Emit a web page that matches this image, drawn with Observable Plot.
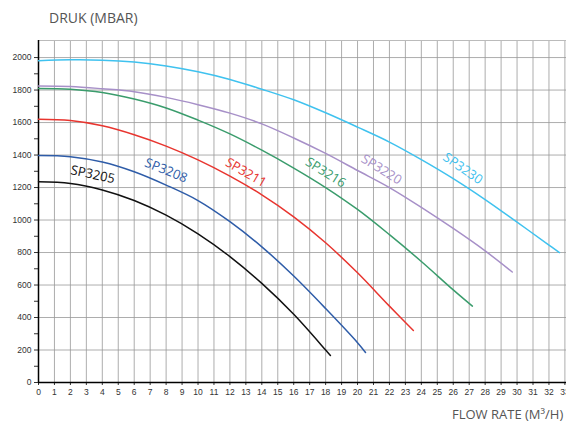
<!DOCTYPE html>
<html><head><meta charset="utf-8">
<script src="https://cdn.jsdelivr.net/npm/d3@7"></script>
<script src="https://cdn.jsdelivr.net/npm/@observablehq/plot@0.6"></script>
<style>
body{margin:0;background:#fff;}
#wrap{position:relative;width:566px;height:425px;overflow:hidden;background:#fff;}
#wrap svg{position:absolute;left:0;top:0;}
.t{position:absolute;font-family:"Open Sans",sans-serif;color:#555;white-space:nowrap;}
</style></head><body>
<div id="wrap">
<div class="t" style="left:49px;top:8px;font-size:14px">DRUK (MBAR)</div>
<div class="t" style="left:452px;top:405px;font-size:13px">FLOW RATE (M³/H)</div>
</div>
<script>
// Series (flow in m³/h, pressure in mbar)
const models = ["SP3205","SP3208","SP3211","SP3216","SP3220","SP3230"];
const flow3205 = [0,2,4,6,8,10,12,14,16,18,18.3];
const druk3205 = [1235,1225,1185,1120,1030,915,775,610,420,200,166];
const flow3208 = [0,2,4,6,8,10,12,14,16,18,20,20.5];
const druk3208 = [1397,1390,1357,1297,1215,1120,990,835,655,455,245,185];
const flow3211 = [0,2,4,6,8,10,12,14,16,18,20,22,23.5];
const druk3211 = [1620,1612,1580,1525,1455,1370,1270,1155,1020,860,675,470,320];
const flow3216 = [0,2,4,6,8,10,12,14,16,18,20,22,24,26,27.2];
const druk3216 = [1810,1805,1785,1745,1690,1615,1530,1430,1320,1200,1065,910,745,570,470];
const flow3220 = [0,2,4,6,8,10,12,14,16,18,20,22,24,26,28,29.7];
const druk3220 = [1825,1822,1808,1790,1755,1710,1658,1592,1505,1410,1305,1200,1078,948,810,680];
const flow3230 = [0,2,4,6,8,10,12,14,16,18,20,22,24,26,28,30,32,32.66];
const druk3230 = [1980,1986,1984,1972,1948,1912,1865,1805,1740,1660,1572,1480,1372,1255,1126,987,846,800];
// Curve labels (anchor in data units, angle in degrees)
const labelFlow = [3.4,8.0,13.0,18.0,21.5,26.6];
const labelDruk = [1280,1305,1292,1292,1311,1317];
const labelAngle = [12,22,30,32,32,35];
// Ticks
const xTicks = d3.range(0,34);
const yLabelTicks = [0,200,400,600,800,1000,1200,1400,1600,1800,2000];
const yMinorTicks = [100,300,500,700,900,1100,1300,1500,1700,1900];

const colors = ["#111111","#2e5ca8","#e8352f","#3a9c6c","#a790c8","#3fc2ef"];
const flows = [flow3205,flow3208,flow3211,flow3216,flow3220,flow3230];
const druks = [druk3205,druk3208,druk3211,druk3216,druk3220,druk3230];
const rows = models.flatMap((m,i)=>flows[i].map((f,j)=>({model:m, flow:f, druk:druks[i][j]})));
const labels = models.map((m,i)=>({model:m, flow:labelFlow[i], druk:labelDruk[i], angle:labelAngle[i]}));

const chart = Plot.plot({
  width:566, height:425,
  marginLeft:38, marginRight:0, marginTop:40, marginBottom:43,
  x:{domain:[0,33.1]},
  y:{domain:[0,2105]},
  color:{domain:models, range:colors},
  style:{fontFamily:"'Liberation Sans', Arial, sans-serif", fontSize:"8.5px", color:"#333", background:"transparent"},
  marks:[
    Plot.gridX(xTicks,{stroke:"#999", strokeOpacity:0.8}),
    Plot.gridY(yLabelTicks,{stroke:"#999", strokeOpacity:0.8}),
    Plot.ruleY([2105],{stroke:"#bbb"}),
    Plot.axisY(yLabelTicks,{tickSize:4, tickPadding:3, label:null, stroke:"#333", tickFormat:d3.format("d")}),
    Plot.axisY(yMinorTicks,{tickSize:4, text:null, label:null, stroke:"#333"}),
    Plot.axisX(xTicks,{tickSize:3, tickPadding:3, label:null, stroke:"#333", tickFormat:d3.format("d")}),
    Plot.ruleX([0],{stroke:"#000", strokeWidth:1.5}),
    Plot.ruleY([0],{stroke:"#000", strokeWidth:1.5}),
    Plot.line(rows,{x:"flow", y:"druk", z:"model", stroke:"model", curve:"catmull-rom", strokeWidth:1.5}),
    Plot.text(labels,{x:"flow", y:"druk", text:"model", rotate:"angle", fill:"model",
      fontSize:13, fontFamily:"'Open Sans', sans-serif"})
  ]
});
document.getElementById("wrap").appendChild(chart);
</script>
</body></html>
